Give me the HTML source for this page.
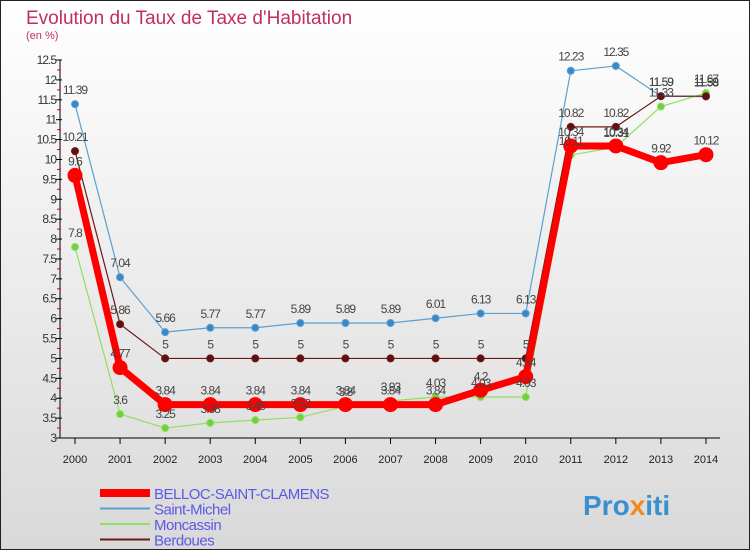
<!DOCTYPE html>
<html><head><meta charset="utf-8"><style>
body{margin:0;}
#c{width:750px;height:550px;position:relative;font-family:"Liberation Sans",sans-serif;}
</style></head><body>
<div id="c">
<svg id="s" width="750" height="550" xmlns="http://www.w3.org/2000/svg">
<defs><linearGradient id="bg" x1="0" y1="0" x2="0" y2="1"><stop offset="0" stop-color="#ffffff"/><stop offset="1" stop-color="#d9d9d9"/></linearGradient></defs>
<rect x="0.5" y="0.5" width="749" height="549" fill="url(#bg)" stroke="#222"/>
<text x="26" y="24" font-size="19" fill="#c0305a">Evolution du Taux de Taxe d'Habitation</text>
<text x="26" y="39" font-size="11" fill="#c0305a">(en %)</text>
<g id="axes"></g><g id="series"></g><g id="labels"></g>
<g id="legend"></g>
<text x="583" y="515" font-size="28" font-weight="bold" fill="#3a8fd0">Pro<tspan fill="#f08a1c">x</tspan>iti</text>
</svg></div>
<script>
const years=[2000,2001,2002,2003,2004,2005,2006,2007,2008,2009,2010,2011,2012,2013,2014];
const belloc=[9.6,4.77,3.84,3.84,3.84,3.84,3.84,3.84,3.84,4.2,4.54,10.34,10.34,9.92,10.12];
const stmichel=[11.39,7.04,5.66,5.77,5.77,5.89,5.89,5.89,6.01,6.13,6.13,12.23,12.35,11.59,11.58];
const moncassin=[7.8,3.6,3.25,3.38,3.45,3.52,3.8,3.93,4.03,4.03,4.03,10.11,10.31,11.33,11.67];
const berdoues=[10.21,5.86,5,5,5,5,5,5,5,5,5,10.82,10.82,11.59,11.59];
const yTicks=[3,3.5,4,4.5,5,5.5,6,6.5,7,7.5,8,8.5,9,9.5,10,10.5,11,11.5,12,12.5];
const NS="http://www.w3.org/2000/svg";
const X=i=>75+i*45.07, Y=v=>438-(v-3)*39.79;
function mk(t,a,p){const e=document.createElementNS(NS,t);for(const k in a)e.setAttribute(k,a[k]);p.appendChild(e);return e;}
const ax=document.getElementById('axes');
let l=mk('line',{x1:60,y1:Y(12.5),x2:60,y2:438,stroke:'#000'},ax);

l=mk('line',{x1:60,y1:438,x2:720,y2:438,stroke:'#000'},ax);

yTicks.forEach(v=>{
 mk('line',{x1:56,y1:Y(v),x2:62,y2:Y(v),stroke:'#000'},ax);
 if(v<12.5)mk('line',{x1:57,y1:Y(v+0.25),x2:61,y2:Y(v+0.25),stroke:'#e00'},ax);
 const t=mk('text',{x:56,y:Y(v)+4,'font-size':12,'text-anchor':'end',fill:'#333','letter-spacing':'-1'},ax);t.textContent=v;
 
});
years.forEach((y,i)=>{
 mk('line',{x1:X(i),y1:438,x2:X(i),y2:444,stroke:'#000'},ax);
 const t=mk('text',{x:X(i),y:463,'font-size':11,'text-anchor':'middle',fill:'#222'},ax);t.textContent=y;
 
});
const S=document.getElementById('series'),L=document.getElementById('labels');
function draw(d,col,w,r,name,dot){
 const p=mk('polyline',{points:d.map((v,i)=>X(i)+','+Y(v)).join(' '),fill:'none',stroke:col,'stroke-width':w},S);
 
 d.forEach((v,i)=>{
  const c=mk('circle',{cx:X(i),cy:Y(v),r:r,fill:dot,stroke:col,'stroke-width':1},S);
  
  const t=mk('text',{x:X(i),y:Y(v)-10,'font-size':12,'text-anchor':'middle',fill:'#444','letter-spacing':'-1'},L);t.textContent=v;
  
 });
}
draw(stmichel,'#5aa0d0',1.2,3.5,'saint-michel','#3a87c8');
draw(moncassin,'#90e060',1.2,3.5,'moncassin','#70d040');
draw(berdoues,'#6a1a1a',1.2,3.5,'berdoues','#601010');
draw(belloc,'#ff0000',7,7,'belloc','#ff0000');
const lg=document.getElementById('legend');
[['BELLOC-SAINT-CLAMENS','#ff0000',8],['Saint-Michel','#5aa0d0',2],['Moncassin','#90e060',2],['Berdoues','#6a1a1a',2]].forEach((e,i)=>{
 const y=493+i*15.5;
 const g=mk('g',{},lg);
 mk('line',{x1:100,y1:y,x2:150,y2:y,stroke:e[1],'stroke-width':e[2]},g);
 const t=mk('text',{x:154,y:y+6,'font-size':15,fill:'#5a5ae6','letter-spacing':'-0.5'},g);t.textContent=e[0];
});
</script>
</body></html>
